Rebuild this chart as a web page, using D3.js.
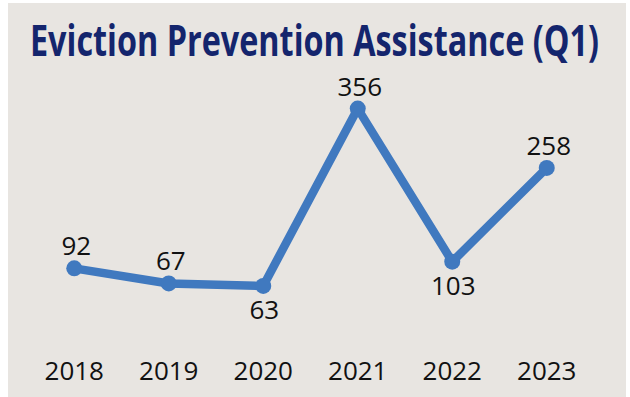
<!DOCTYPE html>
<html>
<head>
<meta charset="utf-8">
<script src="https://cdn.jsdelivr.net/npm/d3@7"></script>
<style>
  html, body { margin: 0; padding: 0; background: #ffffff; }
  svg { display: block; }
</style>
</head>
<body>
<svg id="chart" width="630" height="397"></svg>
<script>
// Quarterly (Q1) eviction prevention assistance counts by year
const years = ["2018", "2019", "2020", "2021", "2022", "2023"];
const values = [92, 67, 63, 356, 103, 258];
// Labels drawn under the point instead of above it
const labelBelow = [false, false, true, false, true, false];
const titleText = "Eviction Prevention Assistance (Q1)";

const W = 630, H = 397;
const svg = d3.select("#chart");

// Panel background
svg.append("rect")
  .attr("x", 8).attr("y", 3)
  .attr("width", 618).attr("height", 394)
  .attr("fill", "#e8e5e1");

// Title, bold and horizontally condensed to fit the panel
const titleG = svg.append("g");
const title = titleG.append("text")
  .attr("x", 0).attr("y", 0)
  .attr("font-family", "'Open Sans', 'Noto Sans', sans-serif")
  .attr("font-weight", 700)
  .attr("font-size", 43)
  .attr("fill", "#14256d")
  .text(titleText);
const natural = title.node().getComputedTextLength();
const titleWidth = 569;
titleG.attr("transform", `translate(30,56) scale(${titleWidth / natural},1)`);

const x = d3.scaleBand().domain(years).range([27, 594]);
const y = d3.scaleLinear().domain([0, 400]).range([324, 82]);
const cx = d => x(d) + x.bandwidth() / 2;

// Category axis (labels only)
const xAxis = d3.axisBottom(x).tickSize(0).tickPadding(0);
const gx = svg.append("g")
  .attr("transform", "translate(0,362)")
  .call(xAxis);
gx.select(".domain").remove();
gx.selectAll("text")
  .attr("font-family", "'Open Sans', 'Noto Sans', sans-serif")
  .attr("font-size", 26)
  .attr("fill", "#111111")
  .attr("dy", "0.71em");

const data = years.map((yr, i) => ({ yr, v: values[i], below: labelBelow[i] }));

const line = d3.line().x(d => cx(d.yr)).y(d => y(d.v));
svg.append("path")
  .datum(data)
  .attr("d", line)
  .attr("fill", "none")
  .attr("stroke", "#4079bf")
  .attr("stroke-width", 8.5)
  .attr("stroke-linejoin", "round");

svg.selectAll("circle.pt")
  .data(data)
  .enter().append("circle")
  .attr("class", "pt")
  .attr("cx", d => cx(d.yr))
  .attr("cy", d => y(d.v))
  .attr("r", 8)
  .attr("fill", "#4079bf");

svg.selectAll("text.lbl")
  .data(data)
  .enter().append("text")
  .attr("class", "lbl")
  .attr("x", d => cx(d.yr) + (d.below ? 1 : 2))
  .attr("y", d => y(d.v) + (d.below ? 33 : -13))
  .attr("text-anchor", "middle")
  .attr("font-family", "'Open Sans', 'Noto Sans', sans-serif")
  .attr("font-size", 26)
  .attr("fill", "#111111")
  .text(d => d.v);
</script>
</body>
</html>
